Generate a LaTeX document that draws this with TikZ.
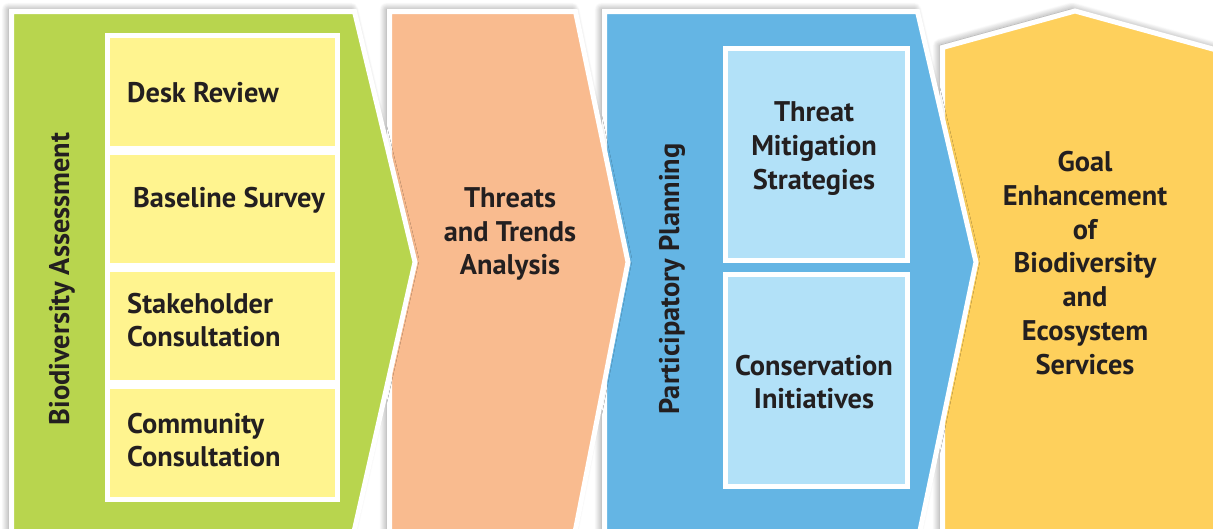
\documentclass[tikz,border=0pt]{standalone}
\usepackage{fontspec}
\setmainfont{PT Sans}
\usetikzlibrary{shadows.blur}
\definecolor{cgreen}{HTML}{B8D54E}
\definecolor{cybox}{HTML}{FFF48F}
\definecolor{corange}{HTML}{F9BB8F}
\definecolor{cblue}{HTML}{64B5E4}
\definecolor{clblue}{HTML}{B2E1F8}
\definecolor{cgold}{HTML}{FED05C}
\definecolor{ctext}{HTML}{231F20}
\tikzset{
  panel/.style={draw=white, line width=5pt, line join=miter,
    blur shadow={shadow xshift=-3pt, shadow yshift=2pt, shadow blur radius=7pt, shadow blur steps=12, shadow opacity=45}},
  inbox/.style={draw=white, line width=5pt, inner sep=0pt},
  lbl/.style={text=ctext, font=\bfseries\fontsize{28.4}{33.7}\selectfont, align=center, inner sep=0pt},
  lbll/.style={lbl, align=left, anchor=west},
}
\begin{document}
\begin{tikzpicture}[x=1pt,y=-1pt]
\useasboundingbox (0,0) rectangle (1213,528);
\clip (0,0) rectangle (1213,528);
% goal house
\path[panel, fill=cgold] (942.5,47.5) -- (1075,11) -- (1240,56.5) -- (1240,545) -- (942.5,545) -- cycle;
% blue chevron
\path[panel, fill=cblue] (604.5,11.5) -- (917.5,11.5) -- (976,262) -- (917,545) -- (604.5,545) -- cycle;
% orange chevron
\path[panel, fill=corange] (389.5,11.5) -- (575.5,11.5) -- (628,262) -- (572.5,545) -- (389.5,545) -- cycle;
% green chevron
\path[panel, fill=cgreen] (11.5,11.5) -- (354.5,11.5) -- (415,262) -- (351,545) -- (11.5,545) -- cycle;

% yellow boxes
\node[inbox, fill=cybox, minimum width=230pt, minimum height=113pt] (b1) at (222.5,92) {};
\node[inbox, fill=cybox, minimum width=230pt, minimum height=113pt] (b2) at (222.5,209) {};
\node[inbox, fill=cybox, minimum width=230pt, minimum height=113pt] (b3) at (222.5,326) {};
\node[inbox, fill=cybox, minimum width=230pt, minimum height=113pt] (b4) at (222.5,443) {};
\node[lbll] (t1) at (127,93) {Desk Review};
\node[lbll] (t2) at (133,200) {Baseline Survey};
\node[lbll] (t3) at (127,320) {Stakeholder\\Consultation};
\node[lbll] (t4) at (127,440) {Community\\Consultation};
\node[lbl, rotate=90] (ba) at (62,279) {Biodiversity Assessment};

% orange text
\node[lbl] (tt) at (510,234) {Threats\\and Trends\\Analysis};

% blue boxes
\node[inbox, fill=clblue, minimum width=182pt, minimum height=212pt] (m1) at (816.5,154.5) {};
\node[inbox, fill=clblue, minimum width=182pt, minimum height=212pt] (m2) at (816.5,380.5) {};
\node[lbl] (s1) at (814,148.5) {Threat\\Mitigation\\Strategies};
\node[lbl] (s2) at (814,382) {Conservation\\Initiatives};
\node[lbl, rotate=90] (pp) at (672,279) {Participatory Planning};

% goal text
\node[lbl] (g) at (1085,263) {Goal\\Enhancement\\of\\Biodiversity\\and\\Ecosystem\\Services};
\end{tikzpicture}
\end{document}
